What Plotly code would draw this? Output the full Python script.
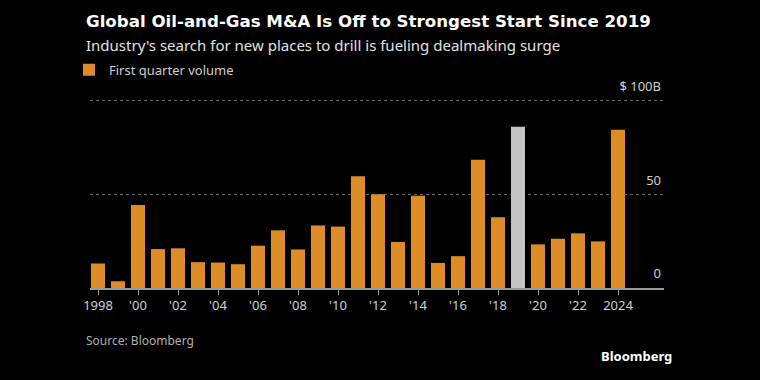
import plotly.graph_objects as go

years = list(range(1998, 2025))
volume = [13.1, 3.6, 44.3, 20.8, 21.2, 13.8, 13.6, 12.7, 22.6, 30.8, 20.6, 33.4, 32.8,
          59.7, 50.1, 24.6, 49.3, 13.4, 17.0, 68.5, 37.8, 86.2, 23.3, 26.3, 29.2, 24.9, 84.6]
highlight_year = 2019
tick_years = list(range(1998, 2025, 2))
tick_labels = ["1998", "'00", "'02", "'04", "'06", "'08", "'10", "'12", "'14", "'16",
               "'18", "'20", "'22", "2024"]
y_ticks = [0, 50, 100]
y_labels = ["0", "50", "$ 100B"]

ORANGE = "#DE8C28"
GRAY = "#C4C4C4"
FONT = "Noto Sans"

orange_vals = [None if y == highlight_year else v for y, v in zip(years, volume)]
gray_vals = [v if y == highlight_year else None for y, v in zip(years, volume)]

fig = go.Figure()
fig.add_trace(go.Bar(x=years, y=orange_vals, name="First quarter volume",
                     marker=dict(color=ORANGE, line=dict(width=0)), width=0.7))
fig.add_trace(go.Bar(x=years, y=gray_vals, name="2019", showlegend=False,
                     marker=dict(color=GRAY, line=dict(width=0)), width=0.7))

W, H = 760, 380
YMAX = 125
L, R, B = 90, 664, 288
T = B - 187 * YMAX / 100

def py(ypix):
    return (B - ypix) / (B - T)

def px(xpix):
    return (xpix - L) / (R - L)

fig.update_layout(
    width=W, height=H,
    margin=dict(l=L, r=W - R, t=T, b=H - B, pad=0),
    paper_bgcolor="#000000", plot_bgcolor="#000000",
    barmode="overlay",
    font=dict(family=FONT, color="#d0d0d0", size=13),
    showlegend=True,
    legend=dict(x=px(69), y=py(70), xanchor="left", yanchor="middle",
                bgcolor="rgba(0,0,0,0)", font=dict(size=13, color="#cfcfcf"),
                itemwidth=30, tracegroupgap=0),
    xaxis=dict(range=[1997.6, 2026.3], tickmode="array", tickvals=tick_years,
               ticktext=tick_labels, ticks="outside", ticklen=5, tickcolor="#9a9a9a",
               tickwidth=1, showline=True, linecolor="#9a9a9a", linewidth=1.5,
               showgrid=False, zeroline=False, tickfont=dict(size=13, color="#d0d0d0")),
    yaxis=dict(range=[0, YMAX], tickmode="array", tickvals=y_ticks, ticktext=y_labels,
               side="right", ticklabelposition="inside top", ticklabelshift=-5,
               ticks="", showgrid=True, gridcolor="#6a6a6a", griddash="dot",
               gridwidth=1, zeroline=False, showline=False,
               tickfont=dict(size=13, color="#d0d0d0")),
    annotations=[
        dict(text="<b>Global Oil-and-Gas M&A Is Off to Strongest Start Since 2019</b>",
             xref="paper", yref="paper", x=px(84), y=py(22), xanchor="left",
             yanchor="middle", showarrow=False,
             font=dict(family="DejaVu Sans", size=16.65, color="#ffffff")),
        dict(text="Industry's search for new places to drill is fueling dealmaking surge",
             xref="paper", yref="paper", x=px(84), y=py(45), xanchor="left",
             yanchor="middle", showarrow=False,
             font=dict(family=FONT, size=15, color="#e2e2e2")),
        dict(text="Source: Bloomberg", xref="paper", yref="paper", x=px(84), y=py(340),
             xanchor="left", yanchor="middle", showarrow=False,
             font=dict(family=FONT, size=12, color="#b0b0b0")),
        dict(text="<b>Bloomberg</b>", xref="paper", yref="paper", x=px(674), y=py(356),
             xanchor="right", yanchor="middle", showarrow=False,
             font=dict(family=FONT, size=13, color="#ffffff")),
    ],
)

fig.write_html("out.html", config={"displayModeBar": False})
with open("out.html", "r", encoding="utf-8") as f:
    html = f.read()
html = html.replace("<head>", "<head><style>html,body{margin:0;padding:0;background:#000;}</style>", 1)
with open("out.html", "w", encoding="utf-8") as f:
    f.write(html)
